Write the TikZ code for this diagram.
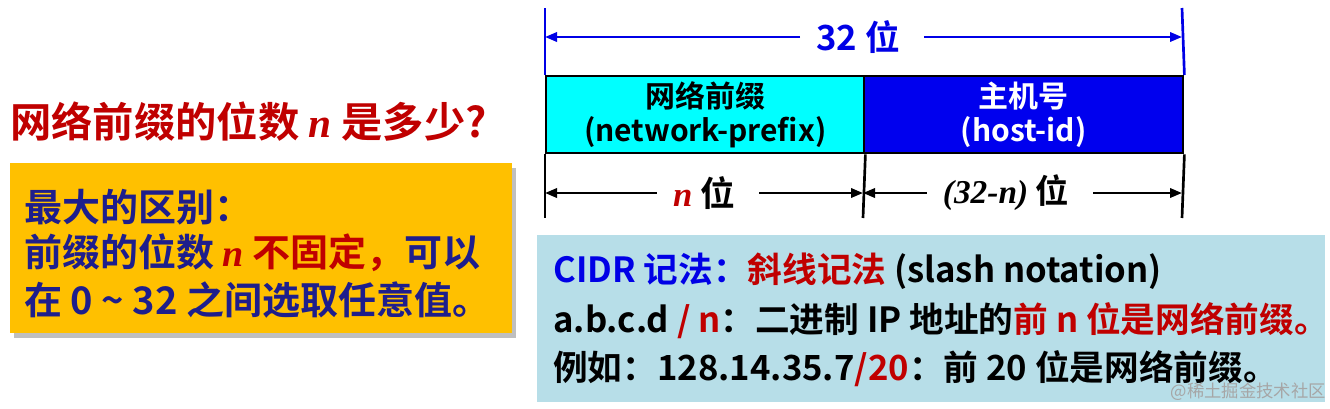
\documentclass[tikz,border=0pt]{standalone}
\usepackage{fontspec}
\setmainfont{Noto Sans CJK SC}[BoldFont=* Bold]
\newfontfamily\tms{Liberation Serif}
\usetikzlibrary{arrows.meta}
\definecolor{dred}{RGB}{192,0,0}
\definecolor{navy}{RGB}{30,30,140}
\definecolor{orangebg}{RGB}{255,192,0}
\definecolor{lbluebg}{RGB}{183,222,232}
\definecolor{bblue}{RGB}{0,0,230}
\definecolor{cyanbg}{RGB}{0,255,255}
\definecolor{hostbg}{RGB}{0,0,238}
\tikzset{
  txt/.style={inner sep=0pt, anchor=west, font=\bfseries},
  arr/.style={line width=1.8pt, -{Triangle[length=9pt,width=7pt]}},
  field/.style={draw=black, line width=1.8pt, minimum height=57.75pt, anchor=north west, inner sep=0pt},
  ftxt/.style={inner sep=0pt, align=center, font=\fontsize{22.5}{25}\selectfont\bfseries},
  vline/.style={line width=2pt},
}
\begin{document}
\begin{tikzpicture}[x=0.75pt,y=-0.75pt]
\useasboundingbox (0,0) rectangle (1330,408);
\fill[white] (0,0) rectangle (1330,408);

% title
\node[txt, text=dred, font=\fontsize{31}{33}\selectfont\bfseries] (title) at (10,122) {网络前缀的位数 {\tms\itshape n} 是多少?};

% orange box
\fill[black!25] (14,168) rectangle (516,338);
\node[fill=orangebg, minimum width=376.5pt, minimum height=127.5pt, anchor=north west, inner sep=0pt] (obox) at (10,163) {};
\node[txt, text=navy, font=\fontsize{28.5}{30}\selectfont\bfseries] (o1) at (24,207) {最大的区别：};
\node[txt, text=navy, font=\fontsize{28.5}{30}\selectfont\bfseries] (o2) at (24,253) {前缀的位数 {\color{dred}\tms\itshape n} {\color{dred}不固定，}可以};
\node[txt, text=navy, font=\fontsize{28.5}{30}\selectfont\bfseries] (o3) at (24,300) {在 0 \~{} 32 之间选取任意值。};

% field diagram
\node[field, fill=cyanbg, minimum width=238.5pt] (pre) at (545,75) {};
\node[field, fill=hostbg, minimum width=239.25pt] (host) at (863,75) {};
\node[ftxt, text=black] (pret) at (pre.center) {网络前缀\\(network-prefix)};
\node[ftxt, text=white] (hostt) at (host.center) {主机号\\(host-id)};

\coordinate (LT) at (545,8);
\coordinate (RT) at (1182,8);
\coordinate (LB) at (545,218);
\coordinate (MB) at (863,218);
\coordinate (RB) at (1182,218);
\draw[bblue, vline] (LT) -- (pre.north west);
\draw[bblue, vline] (RT) -- (host.north east);
\draw[black, vline] (pre.south west) -- (LB);
\draw[black, vline] (pre.south east) -- (MB);
\draw[black, vline] (host.south east) -- (RB);

\node[inner sep=0pt, text=bblue, font=\fontsize{26}{28}\selectfont\bfseries] (t32) at (858,37) {32 位};
\coordinate (aL) at (545,37);
\coordinate (aR) at (1182,37);
\draw[arr, bblue] ([xshift=-12pt]t32.west) -- (aL);
\draw[arr, bblue] ([xshift=18pt]t32.east) -- (aR);

\node[inner sep=0pt, font=\fontsize{26}{28}\selectfont\bfseries] (tn) at (704,193) {{\color{dred}\tms\itshape n} 位};
\coordinate (bL) at (545,193);
\coordinate (bM) at (863,193);
\coordinate (bR) at (1182,193);
\draw[arr, black] ([xshift=-12pt]tn.west) -- (bL);
\draw[arr, black] ([xshift=18pt]tn.east) -- (bM);

\node[inner sep=0pt, font=\fontsize{25}{27}\selectfont\bfseries] (tm) at (1006,193) {{\tms\itshape (32-n)} 位};
\draw[arr, black] ([xshift=-12pt]tm.west) -- (bM);
\draw[arr, black] ([xshift=18pt]tm.east) -- (bR);

% CIDR box
\node[fill=lbluebg, minimum width=591pt, minimum height=125.25pt, anchor=north west, inner sep=0pt] (cbox) at (537,235) {};
\node[txt, font=\fontsize{26}{28}\selectfont\bfseries] (c1) at (553,271) {{\color{bblue}CIDR 记法：}{\color{dred}斜线记法} (slash notation)};
\node[txt, font=\fontsize{26}{28}\selectfont\bfseries] (c2) at (553,321) {a.b.c.d {\color{dred}/ n}：二进制 IP 地址的{\color{dred}前 n 位是网络前缀。}};
\node[txt, font=\fontsize{26}{28}\selectfont\bfseries] (c3) at (553,369) {例如：128.14.35.7{\color{dred}/20}：前 20 位是网络前缀。};
\node[inner sep=0pt, anchor=east, text=black!35, font=\fontsize{13}{14}\selectfont] (wm) at (1326,392) {@稀土掘金技术社区};
\end{tikzpicture}
\end{document}
